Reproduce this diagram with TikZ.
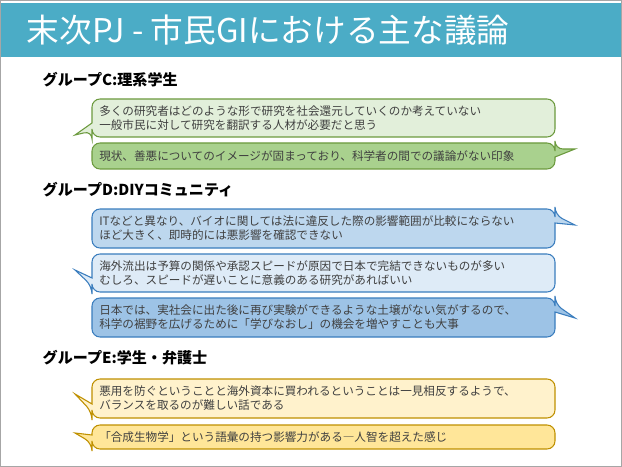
\documentclass[tikz,border=0pt]{standalone}
\usepackage{fontspec}
\setmainfont{Noto Sans CJK JP}
\usetikzlibrary{positioning}
\definecolor{titleteal}{HTML}{4BACC6}
\definecolor{frameGray}{HTML}{A6A6A6}
\definecolor{txtGray}{HTML}{404040}
\definecolor{grnLine}{HTML}{6C9A3E}
\definecolor{grnA}{HTML}{E2EFDA}
\definecolor{grnB}{HTML}{A9D18E}
\definecolor{bluLine}{HTML}{3A7DBE}
\definecolor{bluA}{HTML}{BDD7EE}
\definecolor{bluB}{HTML}{DEEBF7}
\definecolor{bluC}{HTML}{9DC3E6}
\definecolor{ylwLine}{HTML}{BF9000}
\definecolor{ylwA}{HTML}{FFF2CC}
\definecolor{ylwB}{HTML}{FFE699}
% callout with tail on the left: #1 top, #2 bottom, #3 tail tip y, #4 colours
\newcommand{\calloutL}[4]{\draw[#4, rounded corners=6] (92,#2-6) [sharp corners]-- (75,#3) -- (92,#2-14) [rounded corners=6]-- (92,#1) -- (555,#1) -- (555,#2) -- (92,#2) -- cycle;}
% callout with tail on the right
\newcommand{\calloutR}[4]{\draw[#4, rounded corners=6] (555,#1+6) [sharp corners]-- (575,#3) -- (555,#1+14) [rounded corners=6]-- (555,#2) -- (92,#2) -- (92,#1) -- (555,#1) -- cycle;}
\begin{document}
\begin{tikzpicture}[x=0.75pt, y=-0.75pt,
  heading/.style={anchor=west, font=\fontsize{11.3}{13}\selectfont\bfseries, text=black},
  saying/.style={anchor=west, align=left, font=\fontsize{8.7}{11}\selectfont, text=txtGray, inner sep=0pt},
  grn/.style={draw=grnLine, line width=0.8pt},
  blu/.style={draw=bluLine, line width=0.8pt},
  ylw/.style={draw=ylwLine, line width=0.8pt}]
\useasboundingbox (0,0) rectangle (622,467);
\draw[frameGray, fill=white] (0.5,0.5) rectangle (621.5,466.5);
\fill[titleteal] (1,3) rectangle (621,57);
\node[anchor=west, text=white, font=\fontsize{24.5}{28}\selectfont] (title) at (22,30) {末次PJ - 市民GIにおける主な議論};

\node[heading] (grpC) at (38,80) {グループC:理系学生};
\calloutL{99}{137}{135}{grn, fill=grnA}
\node[saying] (c1) at (99,118) {多くの研究者はどのような形で研究を社会還元していくのか考えていない\\一般市民に対して研究を翻訳する人材が必要だと思う};
\calloutR{143}{169}{149}{grn, fill=grnB}
\node[saying] (c2) at (99,156) {現状、善悪についてのイメージが固まっており、科学者の間での議論がない印象};

\node[heading] (grpD) at (38,190) {グループD:DIYコミュニティ};
\calloutR{209}{248}{225}{blu, fill=bluA}
\node[saying] (d1) at (99,228) {ITなどと異なり、バイオに関しては法に違反した際の影響範囲が比較にならない\\ほど大きく、即時的には悪影響を確認できない};
\calloutL{254}{292}{270}{blu, fill=bluB}
\node[saying] (d2) at (99,273) {海外流出は予算の関係や承認スピードが原因で日本で完結できないものが多い\\むしろ、スピードが遅いことに意義のある研究があればいい};
\calloutR{298}{337}{318}{blu, fill=bluC}
\node[saying] (d3) at (99,317) {日本では、実社会に出た後に再び実験ができるような土壌がない気がするので、\\科学の裾野を広げるために「学びなおし」の機会を増やすことも大事};

\node[heading] (grpE) at (38,358) {グループE:学生・弁護士};
\calloutL{379}{418}{394}{ylw, fill=ylwA}
\node[saying] (e1) at (99,398) {悪用を防ぐということと海外資本に買われるということは一見相反するようで、\\バランスを取るのが難しい話である};
\calloutL{425}{449}{433}{ylw, fill=ylwB}
\node[saying] (e2) at (99,437) {「合成生物学」という語彙の持つ影響力がある―人智を超えた感じ};
\end{tikzpicture}
\end{document}
